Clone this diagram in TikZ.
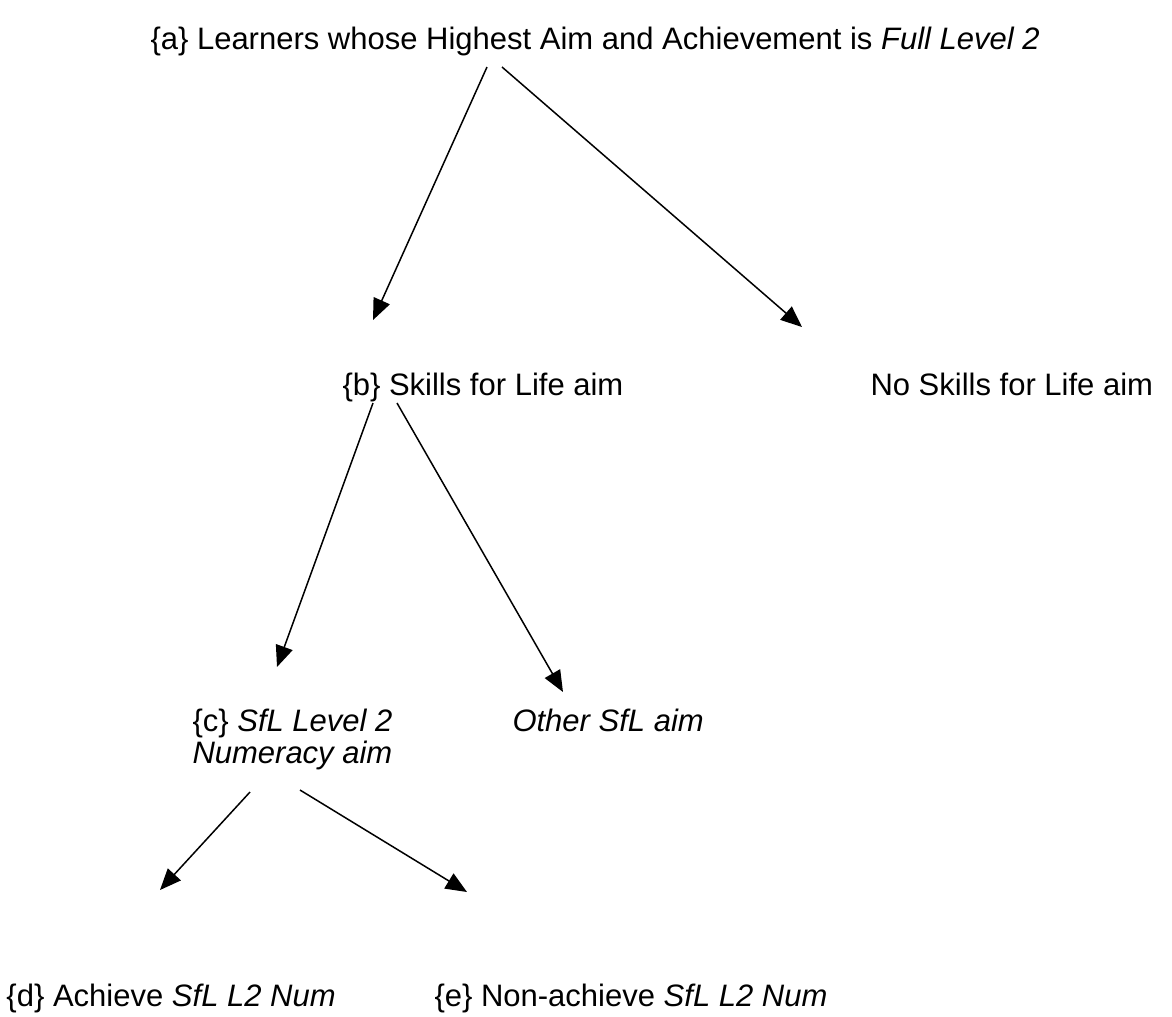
\documentclass[tikz,border=0pt]{standalone}
\usepackage{fontspec}
\setmainfont{Liberation Sans}
\usetikzlibrary{arrows.meta}
\begin{document}
\begin{tikzpicture}[x=0.4pt,y=-0.4pt,->,>={Triangle[length=8.5pt,width=7pt]}]
        \tikzstyle{aim}=[anchor=base west,inner sep=0pt,align=left,font=\fontsize{12.4}{12.8}\selectfont]
        \tikzstyle{edge}=[draw,line width=0.6pt]
        \useasboundingbox (0,0) rectangle (1172,1016);
        % the texts
        \node [aim] (a) at (150,49) {\{a\} Learners whose Highest Aim and Achievement is \textit{Full Level 2}};
        \node [aim] (b) at (342,395) {\{b\} Skills for Life aim};
        \node [aim] (nosfl) at (870,395) {No Skills for Life aim};
        \node [aim] (c) at (192,763) {\{c\} \textit{SfL Level 2}\\\textit{Numeracy aim}};
        \node [aim] (other) at (512,731) {\textit{Other SfL aim}};
        \node [aim] (d) at (6,1006) {\{d\} Achieve \textit{SfL L2 Num}};
        \node [aim] (e) at (434,1006) {\{e\} Non-achieve \textit{SfL L2 Num}};
        % arrow ends
        \coordinate (a1) at (487,67);
        \coordinate (a2) at (502,67);
        \coordinate (b0) at (373,320);
        \coordinate (n0) at (802,327);
        \coordinate (b1) at (373,403);
        \coordinate (b2) at (397,403);
        \coordinate (c0) at (277,667);
        \coordinate (o0) at (563,692);
        \coordinate (c1) at (250,792);
        \coordinate (c2) at (300,790);
        \coordinate (d0) at (160,890);
        \coordinate (e0) at (467,892);
        \path[edge] (a1) -- (b0);
        \path[edge] (a2) -- (n0);
        \path[edge] (b1) -- (c0);
        \path[edge] (b2) -- (o0);
        \path[edge] (c1) -- (d0);
        \path[edge] (c2) -- (e0);
\end{tikzpicture}
\end{document}
